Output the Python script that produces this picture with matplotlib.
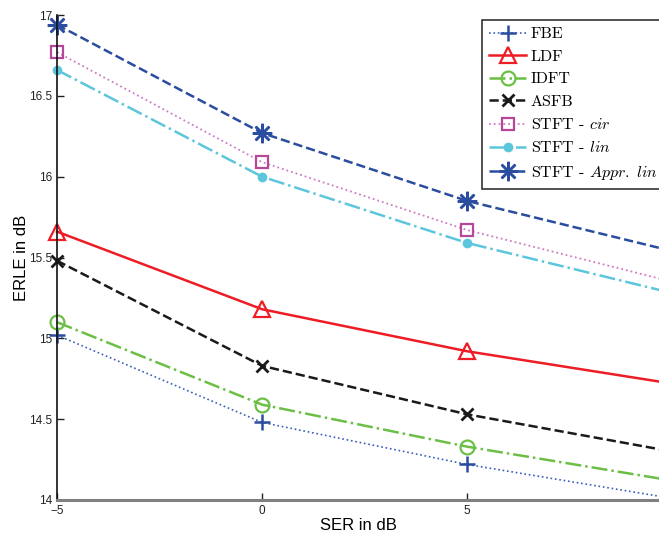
import matplotlib
matplotlib.use("Agg")
import matplotlib.pyplot as plt

plt.rcParams['font.family'] = ['Liberation Sans', 'DejaVu Sans']
plt.rcParams['mathtext.fontset'] = 'cm'

ser = [-5, 0, 5, 10]
fbe = [15.02, 14.48, 14.22, 14.01]
ldf = [15.66, 15.18, 14.92, 14.72]
idft = [15.10, 14.59, 14.33, 14.12]
asfb = [15.48, 14.83, 14.53, 14.30]
stft_cir = [16.77, 16.09, 15.67, 15.35]
stft_lin = [16.66, 16.00, 15.59, 15.28]
stft_appr = [16.94, 16.27, 15.85, 15.54]

labels = ['FBE', 'LDF', 'IDFT', 'ASFB',
          r'STFT - $\mathit{cir}$', r'STFT - $\mathit{lin}$',
          r'STFT - $\mathit{Appr.\ lin}$']
xticks = [-5, 0, 5]
yticks = [14, 14.5, 15, 15.5, 16, 16.5, 17]

fig = plt.figure(figsize=(6.59, 5.36), dpi=100)
ax = fig.add_axes([57/659, 36/536, 1 - 57/659, (500-15)/536])

common = dict(clip_on=False)
ax.plot(ser, fbe, linestyle=':', color='#3a5fb8', lw=1.2, marker='+', ms=12, mew=1.8,
        mec='#2a4d9f', label=labels[0], **common)
ax.plot(ser, ldf, linestyle='-', color='#ee1c25', lw=1.8, marker='^', ms=11, mew=1.6,
        mfc='none', label=labels[1], **common)
ax.plot(ser, idft, linestyle='-.', color='#6cbf45', lw=1.8, marker='o', ms=10, mew=1.6,
        mfc='none', label=labels[2], **common)
ax.plot(ser, asfb, linestyle='--', color='#1a1a1a', lw=1.8, marker='x', ms=9, mew=2,
        label=labels[3], **common)
ax.plot(ser, stft_cir, linestyle=':', color='#d07ac0', lw=1.3, marker='s', ms=8, mew=1.6,
        mfc='none', mec='#b5489a', label=labels[4], **common)
ax.plot(ser, stft_lin, linestyle='-.', color='#5cc6dc', lw=1.8, marker='o', ms=6,
        mfc='#5cc6dc', mec='#5cc6dc', label=labels[5], **common)
ax.plot(ser, stft_appr, linestyle='--', color='#2a4d9f', lw=1.8, marker=(8, 2, 0), ms=14, mew=1.8,
        label=labels[6], **common)

ax.set_xlim(-5, 9.68)
ax.set_ylim(14, 17)
ax.set_xticks(xticks)
ax.set_xticklabels(['\u22125', '0', '5'])
ax.set_yticks(yticks)
ax.set_yticklabels(['14', '14.5', '15', '15.5', '16', '16.5', '17'])
ax.tick_params(direction='in', labelsize=8.5, length=5, width=1, colors='#222222')
ax.spines['top'].set_visible(False)
ax.spines['right'].set_visible(False)
ax.spines['left'].set_color('#111111')
ax.spines['left'].set_linewidth(1.2)
ax.spines['bottom'].set_color('#808080')
ax.spines['bottom'].set_linewidth(2.2)
ax.set_xlabel('SER in dB', fontsize=12, labelpad=1)
ax.set_ylabel('ERLE in dB', fontsize=12)
ax.yaxis.set_label_coords(-0.046, 0.5)

leg = ax.legend(loc='upper left', bbox_to_anchor=(482/659, (536-20)/536),
                bbox_transform=fig.transFigure,
                prop={'family': 'cmr10', 'size': 11.5}, frameon=True, fancybox=False,
                edgecolor='black', handlelength=2.3, labelspacing=0.52, borderpad=0.45,
                handletextpad=0.3, borderaxespad=0)
leg.get_frame().set_linewidth(1.2)
leg.set_zorder(5)

fig.savefig('out.png', dpi=100)
